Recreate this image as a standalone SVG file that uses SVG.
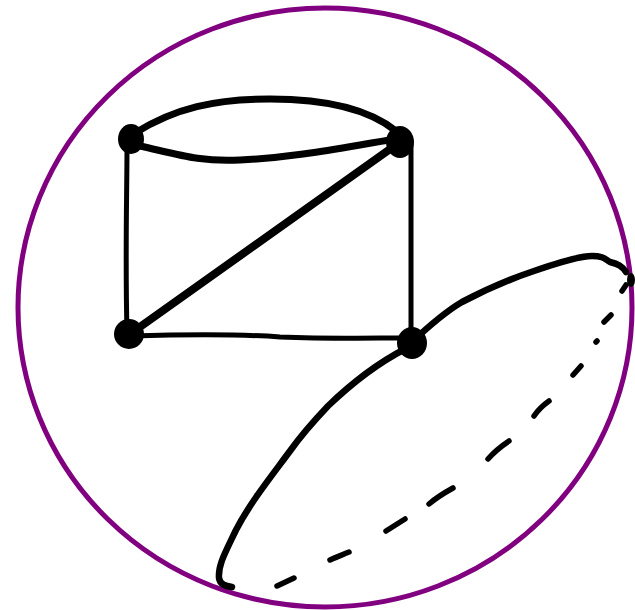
<svg xmlns="http://www.w3.org/2000/svg" width="635" height="610" viewBox="0 0 635 610">
<style>
.e{fill:none;stroke:#000;stroke-linecap:round;stroke-linejoin:round}
.n{fill:#000}
</style>
<rect width="635" height="610" fill="#fff"/>
<ellipse cx="325" cy="307.5" rx="307" ry="299.5" fill="none" stroke="#800080" stroke-width="5"/>
<g id="connectors">
<path class="e" stroke-width="7" d="M135,133 C175,108 215,99 270,99 C330,99 370,110 396,131"/>
<path class="e" stroke-width="7" d="M140,146 C180,155 200,162 240,160 C300,157 350,146 396,139"/>
<path class="e" stroke-width="5" d="M127,142 C127,200 125,250 127,333"/>
<path class="e" stroke-width="5" d="M411,142 L411,343"/>
<path class="e" stroke-width="5" d="M130,336 C200,334 240,334 280,337 C330,339 370,338 411,338"/>
<path class="e" stroke-width="8" d="M130,334 L400,142"/>
<path class="e" stroke-width="6.5" d="M412,342 C430,325 445,312 462,302 C485,290 510,279 534,271 C560,262 580,256 592,256 C603,256 605,259 610,262 C618,264 622,266 626,272"/>
<path class="e" stroke-width="6.5" d="M405,349 C380,362 355,380 328,406 C310,425 300,437 290,451 C270,478 250,503 236,530 C225,553 218,565 219,578 C220,585 226,586 232,587"/>
<path class="e" stroke-width="5.5" d="M622,291 L626,285"/>
<path class="e" stroke-width="5.5" d="M604,322 L611,315"/>
<path class="e" stroke-width="5.5" d="M596,342 L597,341"/>
<path class="e" stroke-width="5.5" d="M573,375 L581,366"/>
<path class="e" stroke-width="5.5" d="M534,416 C538,410 542,406 549,401"/>
<path class="e" stroke-width="5.5" d="M488,459 C494,452 500,447 509,441"/>
<path class="e" stroke-width="5.5" d="M429,504 C436,498 444,493 453,488"/>
<path class="e" stroke-width="5.5" d="M386,531 L405,519"/>
<path class="e" stroke-width="5.5" d="M330,560 C336,557 342,555 349,552"/>
<path class="e" stroke-width="5.5" d="M277,586 L294,578"/>
</g>
<g id="node-tl"><ellipse class="n" cx="131" cy="139" rx="13" ry="15"/></g>
<g id="node-tr"><ellipse class="n" cx="400" cy="142" rx="14" ry="16"/></g>
<g id="node-bl"><circle class="n" cx="129" cy="334" r="15"/></g>
<g id="node-br"><ellipse class="n" cx="412" cy="343" rx="15" ry="16"/></g>
<g id="node-edge"><ellipse class="n" cx="631" cy="280" rx="4" ry="7"/></g>
</svg>
